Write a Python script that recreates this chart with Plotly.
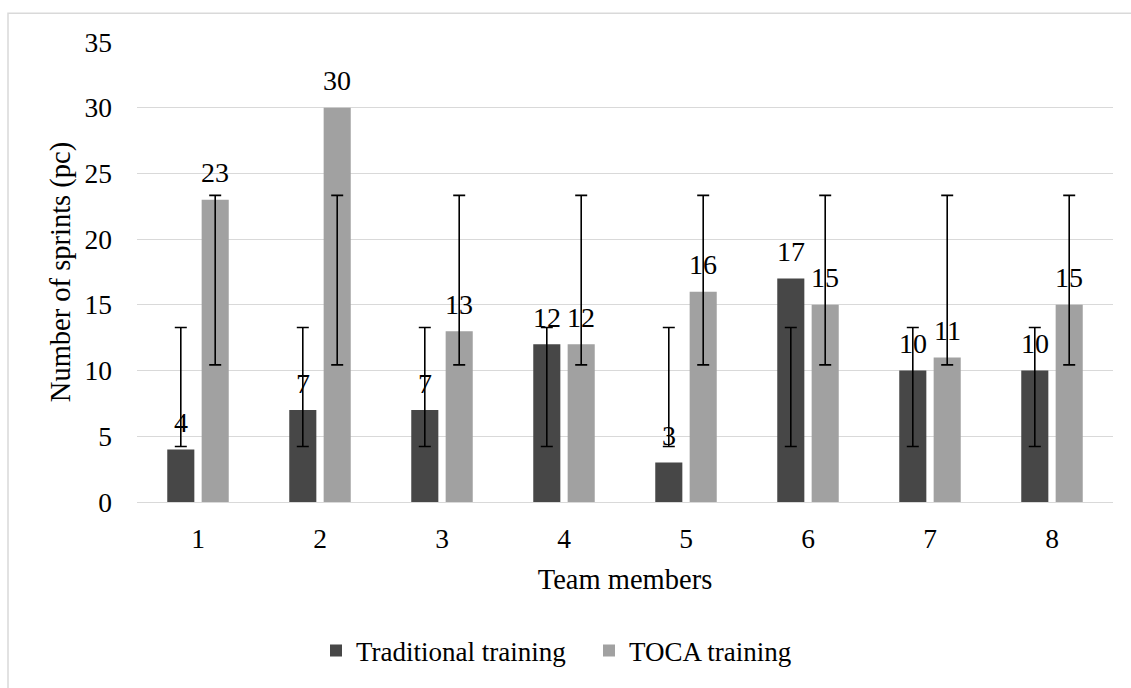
import plotly.graph_objects as go

members = ["1", "2", "3", "4", "5", "6", "7", "8"]
traditional = [4, 7, 7, 12, 3, 17, 10, 10]
toca = [23, 30, 13, 12, 16, 15, 11, 15]
# error bars (drawn around the series mean, as in the source chart)
trad_err_center = [8.75, 8.75, 8.75, 8.75, 8.75, 8.75, 8.75, 8.75]
trad_err_half = [4.53, 4.53, 4.53, 4.53, 4.53, 4.53, 4.53, 4.53]
toca_err_center = [16.88, 16.88, 16.88, 16.88, 16.88, 16.88, 16.88, 16.88]
toca_err_half = [6.45, 6.45, 6.45, 6.45, 6.45, 6.45, 6.45, 6.45]
y_ticks = [0, 5, 10, 15, 20, 25, 30, 35]

FONT = "Liberation Serif"
FS_TICK = 27.5
FS_TITLE = 28.5
FS_LABEL = 28
FS_LEGEND = 27
C_TRAD = "#474747"
C_TOCA = "#a1a1a1"
GRID = "#d9d9d9"
W = 0.222
OFF_TRAD = -0.252
OFF_TOCA = 0.030

L, R, T, B = 137, 18, 42, 183
PW = 1131 - L - R
PH = 688 - T - B
CAT_PX = PW / 8.0

fig = go.Figure()
fig.add_trace(go.Bar(
    x=members, y=traditional, name="Traditional training",
    marker=dict(color=C_TRAD, line=dict(width=0)),
    width=W, offset=OFF_TRAD,
))
fig.add_trace(go.Bar(
    x=members, y=toca, name="TOCA training",
    marker=dict(color=C_TOCA, line=dict(width=0)),
    width=W, offset=OFF_TOCA,
))
# invisible bars carrying the error bars
fig.add_trace(go.Bar(
    x=members, y=trad_err_center, showlegend=False, hoverinfo="skip",
    marker=dict(color="rgba(0,0,0,0)", line=dict(width=0)),
    width=W, offset=OFF_TRAD,
    error_y=dict(type="data", array=trad_err_half, visible=True,
                 color="black", thickness=1.6, width=6),
))
fig.add_trace(go.Bar(
    x=members, y=toca_err_center, showlegend=False, hoverinfo="skip",
    marker=dict(color="rgba(0,0,0,0)", line=dict(width=0)),
    width=W, offset=OFF_TOCA,
    error_y=dict(type="data", array=toca_err_half, visible=True,
                 color="black", thickness=1.6, width=6),
))

annotations = []
for vals, off in ((traditional, OFF_TRAD), (toca, OFF_TOCA)):
    shift = (off + W / 2) * CAT_PX
    for i, v in enumerate(vals):
        annotations.append(dict(
            x=i, y=v, xref="x", yref="y", text=str(v), showarrow=False,
            xanchor="center", yanchor="middle", xshift=shift, yshift=27,
            font=dict(family=FONT, size=FS_LABEL, color="black"),
        ))

fig.update_layout(
    width=1131, height=688,
    barmode="overlay",
    margin=dict(l=L, r=R, t=T, b=B, pad=0),
    paper_bgcolor="white", plot_bgcolor="white",
    font=dict(family=FONT, size=FS_TICK, color="black"),
    showlegend=True,
    legend=dict(orientation="h", x=(316 - L) / PW, xanchor="left",
                y=(505 - 655) / PH, yanchor="middle", entrywidth=228,
                font=dict(family=FONT, size=FS_LEGEND, color="black"),
                traceorder="normal", itemsizing="constant"),
    xaxis=dict(
        type="category", range=[-0.5, 7.5], showgrid=False, showline=False,
        zeroline=False, ticks="", ticklabelstandoff=17,
        tickfont=dict(family=FONT, size=FS_TICK),
        title=dict(text="Team members", font=dict(family=FONT, size=FS_TITLE), standoff=16),
    ),
    yaxis=dict(
        range=[0, 35], tickvals=y_ticks, showgrid=True, gridcolor=GRID, gridwidth=1.4,
        zeroline=True, zerolinecolor=GRID, zerolinewidth=1.4, showline=False,
        ticks="", ticklabelstandoff=24,
        tickfont=dict(family=FONT, size=FS_TICK),
        title=dict(text="Number of sprints (pc)", font=dict(family=FONT, size=FS_TITLE), standoff=5),
    ),
    annotations=annotations,
    shapes=[dict(type="rect", xref="paper", yref="paper",
                 x0=(8 - L) / PW, x1=(1140 - L) / PW,
                 y0=(505 - 700) / PH, y1=(505 - 13) / PH,
                 line=dict(color=GRID, width=1.5), fillcolor="rgba(0,0,0,0)",
                 layer="below")],
)

fig.write_html("out.html", config={"displayModeBar": False},
               post_script="document.body.style.margin='0';document.body.style.overflow='hidden';")
